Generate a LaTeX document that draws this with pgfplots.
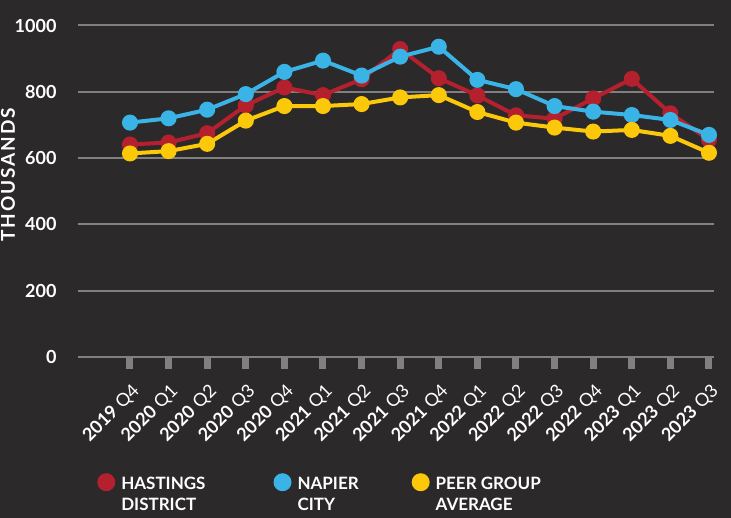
\documentclass[border=0pt]{standalone}
\usepackage{pgfplots}
\pgfplotsset{compat=1.18}
\usepackage{fontspec}
\setmainfont{Lato}

\definecolor{bg}{RGB}{43,41,42}
\definecolor{hred}{RGB}{181,32,46}
\definecolor{nblue}{RGB}{58,180,230}
\definecolor{pyellow}{RGB}{252,200,10}
\definecolor{gridgrey}{RGB}{128,128,128}

\begin{document}
\begin{tikzpicture}
\useasboundingbox (-78pt,-161pt) rectangle (653pt,357pt);
\fill[bg] (-78pt,-161pt) rectangle (653pt,357pt);
\begin{axis}[
    scale only axis,
    width=636pt, height=331.5pt,
    xmin=-1.347, xmax=15.13,
    ymin=0, ymax=1000,
    axis line style={draw=none},
    ytick={0,200,400,600,800,1000},
    yticklabels={0,200,400,600,800,1000},
    ymajorgrids,
    major grid style={gridgrey, line width=2pt},
    ytick style={draw=none},
    yticklabel style={font=\fontsize{18}{20}\selectfont\bfseries, text=white, xshift=-6pt},
    xtick={0,...,15},
    xticklabels={{\bfseries 2019} Q4,{\bfseries 2020} Q1,{\bfseries 2020} Q2,{\bfseries 2020} Q3,{\bfseries 2020} Q4,
        {\bfseries 2021} Q1,{\bfseries 2021} Q2,{\bfseries 2021} Q3,{\bfseries 2021} Q4,{\bfseries 2022} Q1,
        {\bfseries 2022} Q2,{\bfseries 2022} Q3,{\bfseries 2022} Q4,{\bfseries 2023} Q1,{\bfseries 2023} Q2,{\bfseries 2023} Q3},
    xtick pos=lower,
    tick align=outside,
    major tick length=12pt,
    xtick style={draw=gridgrey, line width=7pt},
    xticklabel style={font=\fontsize{18}{20}\selectfont, text=white, xshift=9pt, yshift=-17pt, rotate=45, anchor=east},
    ylabel={\addfontfeatures{LetterSpace=10}\bfseries THOUSANDS},
    ylabel style={font=\fontsize{19}{22}\selectfont, text=white, at={(axis description cs:-0.110,0.55)}, anchor=center},
    every axis plot/.append style={line width=4pt, mark=*, mark size=6pt},
    legend image code/.code={\fill[#1, draw=none] (0pt,0.35em+9pt) circle (9pt);},
    legend style={at={(axis description cs:0.030,-0.35)}, anchor=north west, draw=none, fill=none,
        text=white, font=\fontsize{17}{21}\selectfont\bfseries, legend columns=3,
        cells={align=left}, inner sep=0pt,
        /tikz/every odd column/.append style={column sep=4pt},
        /tikz/column 2/.append style={column sep=66pt},
        /tikz/column 4/.append style={column sep=51pt}},
    legend cell align=left,
]
\addplot[hred] coordinates {
    (0,641) (1,647) (2,675) (3,759) (4,813) (5,790) (6,838) (7,929)
    (8,841) (9,789) (10,729) (11,719) (12,780) (13,839) (14,735) (15,655)};
\addlegendentry{HASTINGS\\DISTRICT}
\addplot[nblue] coordinates {
    (0,707) (1,720) (2,746) (3,793) (4,860) (5,894) (6,849) (7,906)
    (8,936) (9,836) (10,808) (11,757) (12,740) (13,730) (14,715) (15,670)};
\addlegendentry{NAPIER\\CITY}
\addplot[pyellow] coordinates {
    (0,614) (1,621) (2,643) (3,713) (4,757) (5,757) (6,763) (7,783)
    (8,790) (9,739) (10,707) (11,692) (12,680) (13,685) (14,667) (15,616)};
\addlegendentry{PEER GROUP\\AVERAGE}
\end{axis}
\end{tikzpicture}
\end{document}
